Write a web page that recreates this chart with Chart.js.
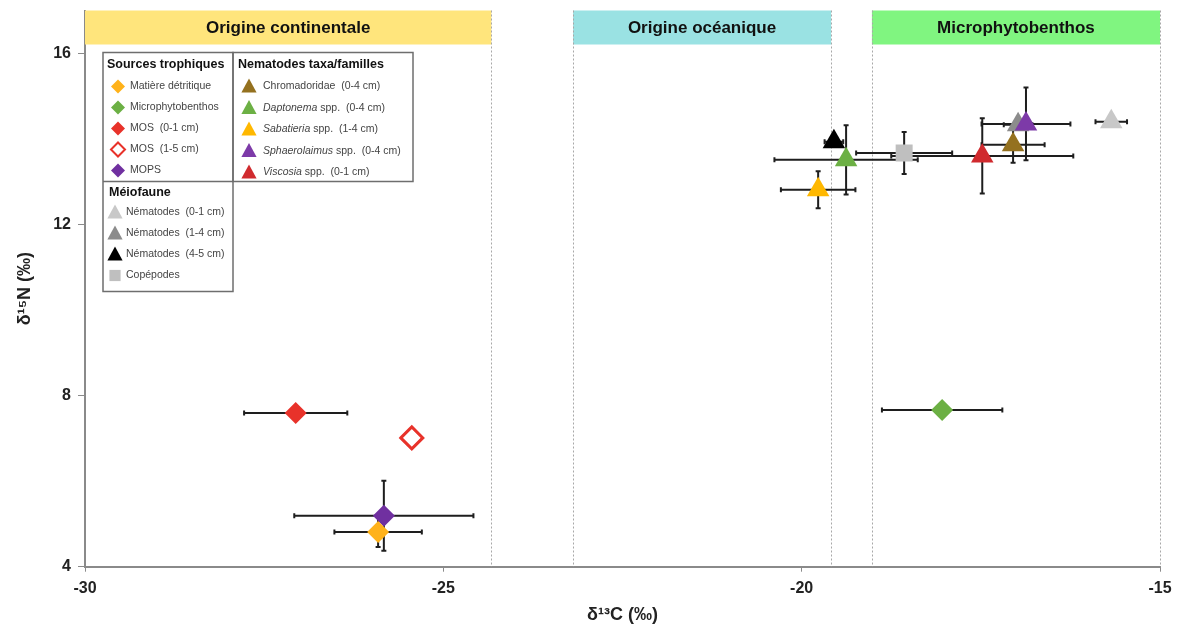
<!DOCTYPE html>
<html>
<head>
<meta charset="utf-8">
<script src="https://cdn.jsdelivr.net/npm/chart.js@4"></script>
<style>
  body { margin: 0; background: #fff; }
  #wrap { width: 1182px; height: 630px; position: relative; }
</style>
</head>
<body>
<div id="wrap"><canvas id="isotopes"></canvas></div>
<script>
// ---- data ----
const seriesNames = ['Matière détritique', 'Microphytobenthos', 'MOS (0-1 cm)', 'MOS (1-5 cm)', 'MOPS',
  'Chromadoridae (0-4 cm)', 'Daptonema spp. (0-4 cm)', 'Sabatieria spp. (1-4 cm)', 'Sphaerolaimus spp. (0-4 cm)',
  'Viscosia spp. (0-1 cm)', 'Nématodes (0-1 cm)', 'Nématodes (1-4 cm)', 'Nématodes (4-5 cm)', 'Copépodes'];
const d13C = [-25.91, -18.04, -27.06, -25.44, -25.83, -17.05, -19.38, -19.77, -16.87, -17.48, -15.68, -16.98, -19.55, -18.57];
const d15N = [4.81, 7.66, 7.59, 7.01, 5.19, 13.86, 13.51, 12.81, 14.35, 13.60, 14.40, 14.33, 13.93, 13.67];
const errC = [0.61, 0.84, 0.72, 0, 1.25, 0.44, 1.00, 0.52, 0.62, 1.27, 0.22, 0.20, 0.13, 0.67];
const errN = [0.35, 0, 0, 0, 0.82, 0.42, 0.81, 0.43, 0.85, 0.88, 0, 0, 0, 0.49];

const xTicks = [-30, -25, -20, -15];
const yTicks = [4, 8, 12, 16];

// zones d'origine (limites en δ13C)
const zoneNames = ['Origine continentale', 'Origine océanique', 'Microphytobenthos'];
const zoneStart = [-30, -23.19, -19.02];
const zoneEnd = [-24.33, -19.59, -15];

// ---- styles ----
const FONT = "'Liberation Sans', Arial, sans-serif";
const colors = ['#FFB21A', '#6CB044', '#E8322A', '#E8322A', '#7030A0',
  '#94711F', '#6CB044', '#FFB800', '#7D3AA8', '#D02A2E', '#C8C8C8', '#8C8C8C', '#000000', '#BFBFBF'];
const shapes = ['rectRot', 'rectRot', 'rectRot', 'rectRot', 'rectRot',
  'triangle', 'triangle', 'triangle', 'triangle', 'triangle', 'triangle', 'triangle', 'triangle', 'rect'];
const zoneColors = ['#FFE57C', '#9AE2E3', '#80F580'];

// legende : groupes -> indices des séries
const legendGroups = [
  { title: 'Sources trophiques', items: [0, 1, 2, 3, 4] },
  { title: 'Nematodes taxa/familles', items: [5, 6, 7, 8, 9] },
  { title: 'Méiofaune', items: [10, 11, 12, 13] }
];
const italicPart = { 6: 'Daptonema', 7: 'Sabatieria', 8: 'Sphaerolaimus', 9: 'Viscosia' };

const datasets = seriesNames.map((name, i) => ({
  label: name,
  data: [{ x: d13C[i], y: d15N[i] }],
  pointStyle: shapes[i],
  pointRadius: shapes[i] === 'triangle' ? 13 : (shapes[i] === 'rect' ? 12 : 11),
  pointHoverRadius: shapes[i] === 'triangle' ? 13 : 11,
  backgroundColor: i === 3 ? '#ffffff' : colors[i],
  borderColor: colors[i],
  borderWidth: i === 3 ? 3 : 0
}));

// ---- plugins ----
const zonesPlugin = {
  id: 'zones',
  beforeDatasetsDraw(chart) {
    const { ctx, chartArea, scales: { x } } = chart;
    const bannerH = 34;
    ctx.save();
    zoneNames.forEach((name, i) => {
      const x0 = x.getPixelForValue(zoneStart[i]);
      const x1 = x.getPixelForValue(zoneEnd[i]);
      ctx.fillStyle = zoneColors[i];
      ctx.fillRect(x0, chartArea.top, x1 - x0, bannerH);
      ctx.fillStyle = '#111';
      ctx.font = 'bold 17px ' + FONT;
      ctx.textAlign = 'center';
      ctx.textBaseline = 'middle';
      ctx.fillText(name, (x0 + x1) / 2, chartArea.top + bannerH / 2 + 1);
      // lignes pointillées
      ctx.strokeStyle = '#A8A8A8';
      ctx.lineWidth = 1;
      ctx.setLineDash([2, 2]);
      [zoneStart[i], zoneEnd[i]].forEach(v => {
        if (v === -30) return;
        const px = Math.round(x.getPixelForValue(v)) + 0.5;
        ctx.beginPath();
        ctx.moveTo(px, chartArea.top);
        ctx.lineTo(px, chartArea.bottom);
        ctx.stroke();
      });
      ctx.setLineDash([]);
    });

    // barres d'erreur
    const y = chart.scales.y;
    ctx.strokeStyle = '#1E1E1E';
    ctx.lineWidth = 2;
    for (let i = seriesNames.length - 1; i >= 0; i--) {
      const px = x.getPixelForValue(d13C[i]);
      const py = y.getPixelForValue(d15N[i]);
      if (errC[i] > 0) {
        const a = x.getPixelForValue(d13C[i] - errC[i]);
        const b = x.getPixelForValue(d13C[i] + errC[i]);
        ctx.beginPath();
        ctx.moveTo(a, py); ctx.lineTo(b, py);
        ctx.moveTo(a, py - 2.5); ctx.lineTo(a, py + 2.5);
        ctx.moveTo(b, py - 2.5); ctx.lineTo(b, py + 2.5);
        ctx.stroke();
      }
      if (errN[i] > 0) {
        const a = y.getPixelForValue(d15N[i] - errN[i]);
        const b = y.getPixelForValue(d15N[i] + errN[i]);
        ctx.beginPath();
        ctx.moveTo(px, a); ctx.lineTo(px, b);
        ctx.moveTo(px - 2.5, a); ctx.lineTo(px + 2.5, a);
        ctx.moveTo(px - 2.5, b); ctx.lineTo(px + 2.5, b);
        ctx.stroke();
      }
    }
    ctx.restore();
  }
};

function drawMarker(ctx, shape, x, y, r, color, open) {
  ctx.beginPath();
  if (shape === 'rectRot') {
    ctx.moveTo(x, y - r); ctx.lineTo(x + r, y); ctx.lineTo(x, y + r); ctx.lineTo(x - r, y);
  } else if (shape === 'triangle') {
    ctx.moveTo(x, y - r); ctx.lineTo(x + r * 0.95, y + r * 0.75); ctx.lineTo(x - r * 0.95, y + r * 0.75);
  } else {
    ctx.rect(x - r * 0.8, y - r * 0.8, r * 1.6, r * 1.6);
  }
  ctx.closePath();
  if (open) {
    ctx.fillStyle = '#fff'; ctx.fill();
    ctx.strokeStyle = color; ctx.lineWidth = 2; ctx.stroke();
  } else {
    ctx.fillStyle = color; ctx.fill();
  }
}

const legendPlugin = {
  id: 'boxLegend',
  afterDraw(chart) {
    const { ctx, chartArea } = chart;
    const L = chartArea.left + 18, T = chartArea.top + 42;
    ctx.save();
    ctx.fillStyle = '#fff';
    ctx.fillRect(L, T, 130, 239);
    ctx.fillRect(L + 130, T, 180, 129);
    ctx.strokeStyle = '#6E6E6E';
    ctx.lineWidth = 1.5;
    ctx.strokeRect(L, T, 130, 239);
    ctx.strokeRect(L + 130, T, 180, 129);
    ctx.beginPath(); ctx.moveTo(L, T + 129); ctx.lineTo(L + 130, T + 129); ctx.stroke();

    const cols = [
      { x: L, y: T, mx: 15, tx: 27, hx: 4, dy: 21, first: 34 },
      { x: L + 130, y: T, mx: 16, tx: 30, hx: 5, dy: 21.5, first: 34 },
      { x: L, y: T + 129, mx: 12, tx: 23, hx: 6, dy: 21, first: 31 }
    ];
    legendGroups.forEach((g, gi) => {
      const c = cols[gi];
      ctx.fillStyle = '#111';
      ctx.font = 'bold 12.5px ' + FONT;
      ctx.textAlign = 'left';
      ctx.textBaseline = 'middle';
      // en-têtes serrés comme dans l'original
      const maxW = gi === 1 ? 172 : 124;
      ctx.fillText(g.title, c.x + c.hx, c.y + (gi === 2 ? 11 : 12), maxW);
      g.items.forEach((s, k) => {
        const yy = c.y + c.first + k * c.dy;
        const r = shapes[s] === 'triangle' ? 8 : 7;
        drawMarker(ctx, shapes[s], c.x + c.mx, yy, r, colors[s], s === 3);
        ctx.fillStyle = '#444';
        let tx = c.x + c.tx;
        const it = italicPart[s];
        if (it) {
          ctx.font = 'italic 10.5px ' + FONT;
          ctx.fillText(it, tx, yy);
          tx += ctx.measureText(it).width;
          ctx.font = '10.5px ' + FONT;
          ctx.fillText(seriesNames[s].slice(it.length).replace(' (', '  ('), tx, yy);
        } else {
          ctx.font = '10.5px ' + FONT;
          ctx.fillText(seriesNames[s].replace(' (', '  ('), tx, yy, gi === 0 ? 101 : 146);
        }
      });
    });
    ctx.restore();
  }
};

// ---- chart ----
new Chart(document.getElementById('isotopes'), {
  type: 'scatter',
  data: { datasets: datasets },
  options: {
    responsive: true,
    maintainAspectRatio: false,
    animation: false,
    layout: { autoPadding: false, padding: { top: 10.5, right: 22, left: 0, bottom: 0 } },
    plugins: { legend: { display: false }, tooltip: { enabled: false } },
    scales: {
      x: {
        type: 'linear',
        min: -30, max: -15,
        afterBuildTicks(scale) { scale.ticks = xTicks.map(v => ({ value: v })); },
        afterFit(scale) { scale.height = 63.3; },
        border: { display: true, color: '#8A8A8A', width: 2 },
        grid: { display: true, drawOnChartArea: false, drawTicks: true, tickLength: 5, color: '#8A8A8A', lineWidth: 1 },
        ticks: { color: '#222', padding: 7, font: { family: FONT, size: 16, weight: 'bold' } },
        title: { display: true, text: 'δ¹³C (‰)', color: '#222', padding: { top: 0, bottom: 4 }, font: { family: FONT, size: 18, weight: 'bold' } }
      },
      y: {
        type: 'linear',
        min: 4, max: 17,
        afterBuildTicks(scale) { scale.ticks = yTicks.map(v => ({ value: v })); },
        afterFit(scale) { scale.width = 85; scale.paddingTop = 0; scale.paddingBottom = 0; },
        border: { display: true, color: '#8A8A8A', width: 2 },
        grid: { display: true, drawOnChartArea: false, drawTicks: true, tickLength: 7, color: '#8A8A8A', lineWidth: 1 },
        ticks: { color: '#222', padding: 7, font: { family: FONT, size: 16, weight: 'bold' } },
        title: { display: true, text: 'δ¹⁵N (‰)', color: '#222', padding: { top: 14, bottom: 0 }, font: { family: FONT, size: 18, weight: 'bold' } }
      }
    }
  },
  plugins: [zonesPlugin, legendPlugin]
});
</script>
</body>
</html>
